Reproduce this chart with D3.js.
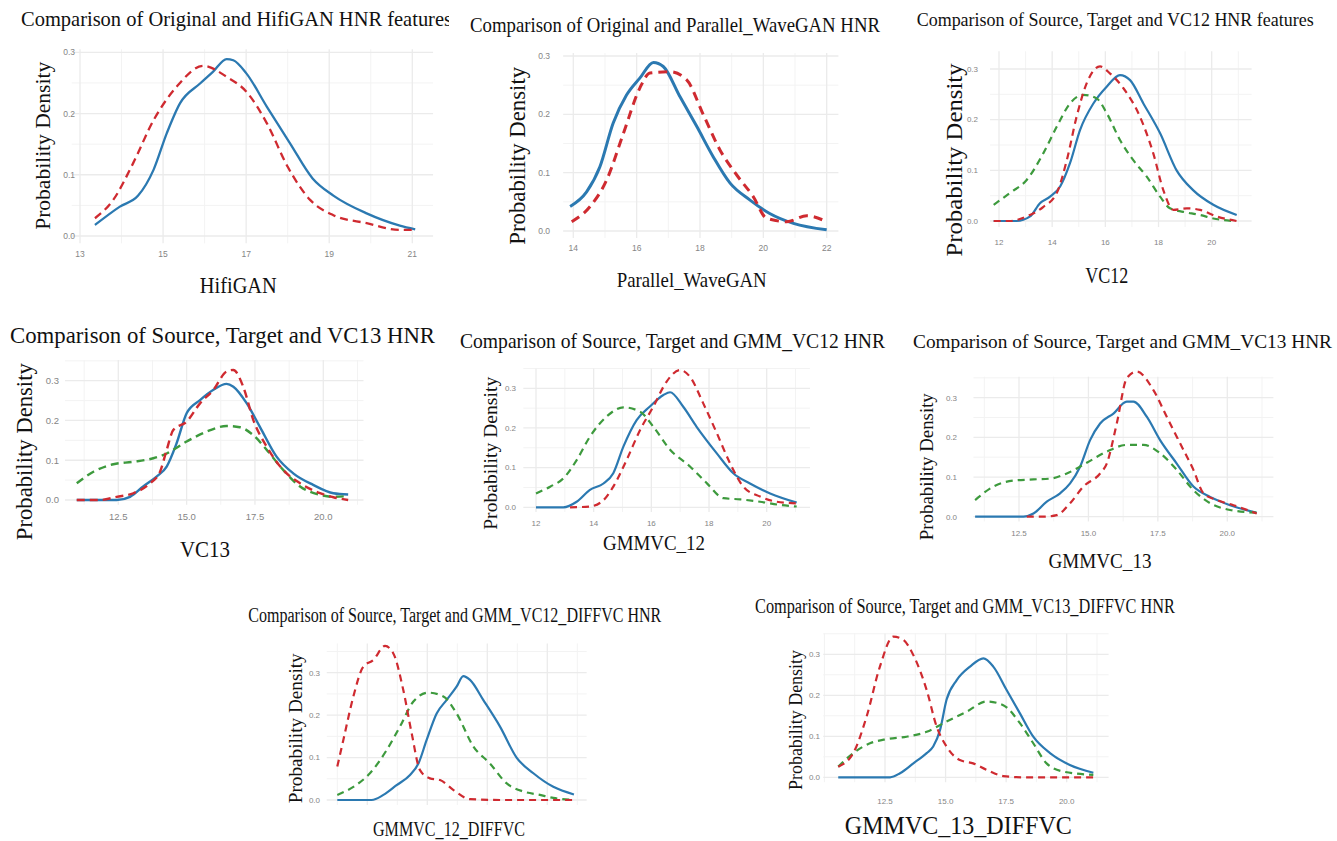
<!DOCTYPE html>
<html><head><meta charset="utf-8">
<script src="https://cdn.jsdelivr.net/npm/d3@7"></script>
<style>body{margin:0;background:#fff}svg{display:block}</style>
</head><body>
<svg id="c" width="1337" height="841"></svg>
<script>
// ---------------- DATA ----------------
const titles = [
  "Comparison of Original and HifiGAN HNR features",
  "Comparison of Original and Parallel_WaveGAN HNR",
  "Comparison of Source, Target and VC12 HNR features",
  "Comparison of Source, Target and VC13 HNR",
  "Comparison of Source, Target and GMM_VC12 HNR",
  "Comparison of Source, Target and GMM_VC13 HNR",
  "Comparison of Source, Target and GMM_VC12_DIFFVC HNR",
  "Comparison of Source, Target and GMM_VC13_DIFFVC HNR"
];
const xLabels = ["HifiGAN","Parallel_WaveGAN","VC12","VC13","GMMVC_12","GMMVC_13","GMMVC_12_DIFFVC","GMMVC_13_DIFFVC"];
const yLabel = "Probability Density";

const yTicks = [0, 0.1, 0.2, 0.3];
const yTickLabels = ["0.0","0.1","0.2","0.3"];
const yMinor = [0.05, 0.15, 0.25, 0.35];

const xTicksOdd = [13,15,17,19,21];
const xMinorOdd = [14,16,18,20];
const xTicksEven14 = [14,16,18,20,22];
const xMinorEven14 = [15,17,19,21];
const xTicksEven12 = [12,14,16,18,20];
const xMinorEven12 = [13,15,17,19,21];
const xTicksQuarter = [12.5,15,17.5,20];
const xTickLabelsQuarter = ["12.5","15.0","17.5","20.0"];
const xMinorQuarter = [10,11.25,13.75,16.25,18.75,21.25];

// Panel 1
const p1Target = [[13.36,0.018],[13.96,0.048],[14.4,0.066],[14.77,0.108],[15.09,0.168],[15.41,0.217],[15.89,0.249],[16.2,0.268],[16.53,0.289],[16.69,0.287],[17,0.266],[17.5,0.211],[18.06,0.151],[18.6,0.094],[19.1,0.066],[19.9,0.037],[20.7,0.017],[21.07,0.011]];
const p1HifiGAN = [[13.36,0.029],[13.8,0.059],[14.28,0.119],[14.77,0.189],[15.33,0.244],[15.97,0.278],[16.53,0.26],[17,0.236],[17.5,0.184],[18,0.113],[18.54,0.059],[19.1,0.034],[19.9,0.021],[20.7,0.01],[21.07,0.01]];
// Panel 2
const p2Target = [[13.9,0.042],[14.42,0.067],[14.84,0.11],[15.26,0.185],[15.68,0.233],[16.1,0.262],[16.53,0.289],[16.84,0.282],[17.37,0.23],[17.9,0.179],[18.42,0.127],[18.95,0.082],[19.58,0.053],[20.2,0.03],[20.95,0.013],[22,0.002]];
const p2ParallelWaveGAN = [[13.95,0.016],[14.53,0.042],[15.05,0.087],[15.58,0.167],[16.1,0.245],[16.42,0.271],[17.05,0.273],[17.58,0.259],[18.1,0.2],[18.63,0.139],[19.16,0.096],[19.68,0.059],[20.1,0.022],[20.74,0.016],[21.37,0.026],[22,0.016]];
// Panel 3
const p3Target = [[11.8,0],[12.66,0],[13.17,0.009],[13.54,0.035],[13.92,0.048],[14.3,0.068],[14.67,0.114],[15.05,0.18],[15.55,0.232],[16.05,0.265],[16.55,0.288],[16.93,0.278],[17.43,0.232],[18.06,0.173],[18.68,0.1],[19.3,0.061],[20.06,0.032],[20.94,0.012]];
const p3VC12 = [[11.8,0],[12.4,0],[13.04,0.009],[13.67,0.028],[14.17,0.055],[14.55,0.12],[14.92,0.206],[15.3,0.272],[15.8,0.305],[16.18,0.291],[16.68,0.262],[17.3,0.206],[17.8,0.134],[18.18,0.061],[18.56,0.022],[19.06,0.025],[19.56,0.022],[20.19,0.009],[20.94,0]];
const p3Source = [[11.8,0.032],[12.4,0.055],[13.04,0.081],[13.67,0.134],[14.17,0.186],[14.67,0.232],[15.17,0.249],[15.67,0.242],[16.05,0.213],[16.55,0.16],[17.05,0.12],[17.55,0.088],[18.06,0.048],[18.43,0.025],[18.93,0.018],[19.56,0.012],[20.06,0.005],[20.8,0]];
// Panel 4
const p4Target = [[10.98,0],[12.44,0],[12.93,0.008],[13.41,0.034],[13.9,0.059],[14.27,0.084],[14.63,0.142],[15,0.218],[15.49,0.251],[15.98,0.277],[16.46,0.292],[16.71,0.285],[17.2,0.243],[17.68,0.184],[18.29,0.109],[18.9,0.067],[19.63,0.038],[20.37,0.017],[20.91,0.014]];
const p4VC13 = [[10.98,0],[11.83,0],[12.44,0.008],[13.05,0.017],[13.66,0.042],[14.02,0.07],[14.27,0.126],[14.51,0.176],[15,0.197],[15.49,0.243],[15.98,0.277],[16.46,0.323],[16.71,0.327],[17.07,0.285],[17.44,0.201],[17.93,0.134],[18.54,0.075],[19.15,0.042],[19.88,0.017],[20.37,0.007],[20.91,0]];
const p4Source = [[10.98,0.042],[11.59,0.071],[12.32,0.09],[13.05,0.096],[13.78,0.105],[14.27,0.117],[15,0.147],[15.73,0.172],[16.46,0.186],[16.95,0.183],[17.44,0.163],[17.93,0.126],[18.54,0.075],[19.15,0.034],[19.88,0.013],[20.37,0.008],[20.91,0.01]];
// Panel 5
const p5Target = [[12,0],[12.95,0],[13.41,0.014],[13.87,0.044],[14.34,0.06],[14.68,0.086],[15.03,0.153],[15.49,0.22],[15.95,0.254],[16.42,0.283],[16.65,0.29],[17.1,0.254],[17.57,0.203],[18.27,0.136],[18.84,0.086],[19.42,0.06],[20.12,0.035],[21.04,0.012]];
const p5GMMVC12 = [[13.18,0],[13.87,0.002],[14.34,0.018],[14.68,0.052],[15.14,0.119],[15.61,0.195],[16.07,0.254],[16.53,0.317],[16.99,0.346],[17.34,0.329],[17.8,0.262],[18.27,0.187],[18.73,0.111],[19.19,0.052],[19.77,0.027],[20.35,0.014],[21.04,0.01]];
const p5Source = [[12,0.035],[12.49,0.052],[12.95,0.073],[13.41,0.119],[13.87,0.178],[14.45,0.229],[15.03,0.252],[15.61,0.241],[16.07,0.203],[16.65,0.145],[17.34,0.103],[17.92,0.061],[18.5,0.023],[19.08,0.02],[19.77,0.014],[20.46,0.006],[21.04,0.002]];
// Panel 6
const p6Target = [[10.92,0],[12.66,0],[13.02,0.008],[13.5,0.038],[13.98,0.059],[14.34,0.084],[14.7,0.126],[15.06,0.193],[15.42,0.235],[15.9,0.26],[16.38,0.29],[16.62,0.29],[17.1,0.252],[17.58,0.193],[18.18,0.134],[18.78,0.076],[19.38,0.05],[20.1,0.029],[21.06,0.01]];
const p6GMMVC13 = [[12.78,0],[13.38,0],[13.86,0.004],[14.34,0.034],[14.82,0.076],[15.42,0.109],[15.66,0.134],[16.02,0.235],[16.38,0.349],[16.74,0.366],[17.34,0.319],[17.82,0.252],[18.3,0.185],[18.78,0.118],[19.14,0.059],[19.62,0.042],[20.22,0.029],[21.06,0.008]];
const p6Source = [[10.92,0.042],[11.58,0.076],[12.3,0.091],[13.02,0.094],[13.62,0.096],[14.22,0.109],[14.94,0.136],[15.66,0.164],[16.38,0.181],[16.98,0.181],[17.58,0.16],[18.18,0.118],[18.78,0.067],[19.38,0.034],[20.1,0.017],[21.06,0.01]];
// Panel 7
const p7Target = [[11.25,0],[12.68,0],[13.17,0.012],[13.72,0.035],[14.28,0.059],[14.63,0.086],[14.97,0.141],[15.39,0.204],[15.81,0.236],[16.22,0.267],[16.5,0.292],[16.78,0.283],[17.33,0.236],[18.03,0.173],[18.72,0.1],[19.42,0.063],[20.25,0.031],[21.11,0.013]];
const p7GMMVC12Diff = [[11.25,0.079],[11.5,0.141],[11.92,0.244],[12.33,0.314],[12.75,0.33],[13.24,0.363],[13.58,0.346],[14,0.259],[14.35,0.157],[14.69,0.071],[15.11,0.051],[15.53,0.047],[16.08,0.024],[16.78,0.002],[18.03,0],[21.11,0]];
const p7Source = [[11.25,0.012],[11.92,0.031],[12.61,0.063],[13.31,0.118],[13.86,0.173],[14.42,0.232],[15.04,0.253],[15.67,0.244],[16.22,0.204],[16.92,0.126],[17.61,0.086],[18.31,0.039],[19,0.02],[19.69,0.012],[20.25,0.005],[21.11,0]];
// Panel 8
const p8Target = [[10.57,0],[12.71,0],[13.12,0.01],[13.67,0.034],[14.22,0.059],[14.49,0.075],[14.77,0.115],[15.04,0.189],[15.46,0.237],[16.01,0.27],[16.56,0.29],[16.97,0.27],[17.52,0.213],[18.07,0.156],[18.62,0.099],[19.31,0.059],[20.13,0.03],[21.1,0.011]];
const p8GMMVC13Diff = [[10.57,0.026],[11.19,0.059],[11.74,0.148],[12.29,0.27],[12.84,0.343],[13.26,0.335],[13.67,0.298],[14.22,0.213],[14.63,0.124],[15.04,0.075],[15.59,0.042],[16.14,0.034],[16.7,0.018],[17.38,0.003],[18.21,0],[21.1,0]];
const p8Source = [[10.57,0.026],[11.19,0.059],[11.88,0.083],[12.57,0.093],[13.39,0.099],[14.22,0.111],[15.04,0.136],[15.87,0.16],[16.7,0.185],[17.38,0.176],[18.07,0.132],[18.62,0.083],[19.17,0.034],[19.86,0.014],[21.1,0.006]];

// ---------------- STYLE / LAYOUT ----------------
const COL = {target:'#2b79b1', conv:'#cf2a30', src:'#3d9a3d'};
const SERIF = "'Liberation Serif','Times New Roman',serif";
const SANS = "'Liberation Sans Narrow','Liberation Sans',Arial,sans-serif";

const panels = [
  {xT:xTicksOdd, xTL:xTicksOdd.map(String), xM:xMinorOdd, series:[[p1Target,'target'],[p1HifiGAN,'conv']]},
  {xT:xTicksEven14, xTL:xTicksEven14.map(String), xM:xMinorEven14, series:[[p2Target,'target'],[p2ParallelWaveGAN,'conv']]},
  {xT:xTicksEven12, xTL:xTicksEven12.map(String), xM:xMinorEven12, series:[[p3Target,'target'],[p3Source,'src'],[p3VC12,'conv']]},
  {xT:xTicksQuarter, xTL:xTickLabelsQuarter, xM:xMinorQuarter, series:[[p4Target,'target'],[p4Source,'src'],[p4VC13,'conv']]},
  {xT:xTicksEven12, xTL:xTicksEven12.map(String), xM:xMinorEven12, series:[[p5Target,'target'],[p5Source,'src'],[p5GMMVC12,'conv']]},
  {xT:xTicksQuarter, xTL:xTickLabelsQuarter, xM:xMinorQuarter, series:[[p6Target,'target'],[p6Source,'src'],[p6GMMVC13,'conv']]},
  {xT:xTicksQuarter, xTL:null, xM:xMinorQuarter, series:[[p7Target,'target'],[p7Source,'src'],[p7GMMVC12Diff,'conv']]},
  {xT:xTicksQuarter, xTL:xTickLabelsQuarter, xM:xMinorQuarter, series:[[p8Target,'target'],[p8Source,'src'],[p8GMMVC13Diff,'conv']]}
];

const layout = [
  {xc:[13,80,21,412.3], yc:[236,52.3], xlim:[12.8,21.5], ylim:[-0.012,0.305], yTickX:75, xTickY:254, tfs:8.5, lw:2.3, dash:'8,5',
   title:{x:21,y:26,len:431,fs:22,clip:449}, xl:{x:238.3,y:292.7,len:77,fs:24}, yl:{x:50,y:145.8,len:168,fs:22}},
  {xc:[14,573.3,22,826.7], yc:[231,56], xlim:[13.68,22.37], ylim:[-0.012,0.305], yTickX:550, xTickY:248, tfs:8.5, lw:3, dash:'9,6',
   title:{x:470,y:32,len:410,fs:21}, xl:{x:691.7,y:286.7,len:150,fs:22}, yl:{x:525,y:155.8,len:178,fs:24}},
  {xc:[12,999,20,1211.7], yc:[221,69], xlim:[11.66,21.5], ylim:[-0.012,0.335], yTickX:978, xTickY:242, tfs:8, lw:2.2, dash:'7,5',
   title:{x:916.7,y:26,len:397,fs:18.2}, xl:{x:1106.7,y:283.3,len:43,fs:24}, yl:{x:961.7,y:160,len:193,fs:24}},
  {xc:[12.5,118.3,20,323.3], yc:[500,380.7], xlim:[10.55,21.47], ylim:[-0.012,0.352], yTickX:59, xTickY:517, tfs:9.5, lw:2.4, dash:'8,5',
   title:{x:10,y:343.3,len:425,fs:24}, xl:{x:205,y:556.7,len:50,fs:24}, yl:{x:31.7,y:451.7,len:177,fs:24}},
  {xc:[12,536,20,766.7], yc:[507.3,388.3], xlim:[11.56,21.5], ylim:[-0.012,0.35], yTickX:516, xTickY:523.3, tfs:8, lw:2.2, dash:'7,5',
   title:{x:460,y:348.3,len:425,fs:21}, xl:{x:654,y:550,len:102,fs:22}, yl:{x:496.7,y:453.3,len:153,fs:19}},
  {xc:[12.5,1019,20,1227.3], yc:[516.7,397.7], xlim:[10.86,21.66], ylim:[-0.012,0.353], yTickX:957, xTickY:533.3, tfs:8, lw:2.2, dash:'7,5',
   title:{x:913,y:348.3,len:419,fs:19.2}, xl:{x:1100,y:568.3,len:103,fs:22}, yl:{x:933.3,y:466.7,len:147,fs:19}},
  {xc:[11.25,337.3,20,547.3], yc:[800,672.7], xlim:[10.81,21.64], ylim:[-0.012,0.369], yTickX:320, xTickY:null, tfs:8, lw:2.2, dash:'7,5',
   title:{x:248.3,y:621.7,len:413,fs:20}, xl:{x:449,y:836,len:152,fs:20}, yl:{x:301.7,y:728.3,len:150,fs:19}},
  {xc:[12.5,885,20,1066.7], yc:[777.3,654.3], xlim:[9.95,21.73], ylim:[-0.012,0.351], yTickX:820, xTickY:800.7, tfs:8, lw:2.2, dash:'7,5',
   title:{x:755,y:613.3,len:420,fs:20}, xl:{x:958.3,y:834,len:227,fs:26}, yl:{x:801.7,y:720,len:140,fs:18}}
];

// ---------------- DRAW ----------------
const svg = d3.select('#c');
const defs = svg.append('defs');

panels.forEach((p, i) => {
  const L = layout[i];
  const x = d3.scaleLinear().domain([L.xc[0], L.xc[2]]).range([L.xc[1], L.xc[3]]);
  const y = d3.scaleLinear().domain([0, 0.3]).range([L.yc[0], L.yc[1]]);
  const g = svg.append('g').attr('class', 'panel-' + (i + 1));
  const [gx0, gx1] = L.xlim, [gy0, gy1] = L.ylim;

  // minor grid
  const grid = g.append('g');
  grid.selectAll('.vm').data(p.xM.filter(v => v >= gx0 && v <= gx1)).join('line')
    .attr('x1', d => x(d)).attr('x2', d => x(d)).attr('y1', y(gy0)).attr('y2', y(gy1))
    .attr('stroke', '#f3f3f3').attr('stroke-width', 1);
  grid.selectAll('.hm').data(yMinor.filter(v => v >= gy0 && v <= gy1)).join('line')
    .attr('y1', d => y(d)).attr('y2', d => y(d)).attr('x1', x(gx0)).attr('x2', x(gx1))
    .attr('stroke', '#f3f3f3').attr('stroke-width', 1);
  // major grid
  grid.selectAll('.vM').data(p.xT.filter(v => v >= gx0 && v <= gx1)).join('line')
    .attr('x1', d => x(d)).attr('x2', d => x(d)).attr('y1', y(gy0)).attr('y2', y(gy1))
    .attr('stroke', '#ebebeb').attr('stroke-width', 1.3);
  grid.selectAll('.hM').data(yTicks.filter(v => v >= gy0 && v <= gy1)).join('line')
    .attr('y1', d => y(d)).attr('y2', d => y(d)).attr('x1', x(gx0)).attr('x2', x(gx1))
    .attr('stroke', '#ebebeb').attr('stroke-width', 1.3);

  // tick labels
  g.append('g').selectAll('text').data(yTicks).join('text')
    .attr('x', L.yTickX).attr('y', d => y(d)).attr('dy', '0.35em')
    .attr('text-anchor', 'end').attr('font-family', SANS).attr('font-size', L.tfs)
    .attr('fill', '#858585').text((d, k) => yTickLabels[k]);
  if (p.xTL) {
    g.append('g').selectAll('text').data(p.xT).join('text')
      .attr('x', d => x(d)).attr('y', L.xTickY).attr('dy', '0.35em')
      .attr('text-anchor', 'middle').attr('font-family', SANS).attr('font-size', L.tfs)
      .attr('fill', '#858585').text((d, k) => p.xTL[k]);
  }

  // curves
  const line = d3.line().x(d => x(d[0])).y(d => y(d[1])).curve(d3.curveMonotoneX);
  p.series.forEach(([data, kind]) => {
    g.append('path').datum(data).attr('d', line)
      .attr('fill', 'none').attr('stroke', COL[kind])
      .attr('stroke-width', L.lw)
      .attr('stroke-linejoin', 'round')
      .attr('stroke-dasharray', kind === 'target' ? null : L.dash);
  });

  // title
  const t = g.append('text').attr('x', L.title.x).attr('y', L.title.y)
    .attr('font-family', SERIF).attr('font-size', L.title.fs).attr('fill', '#111')
    .attr('textLength', L.title.len).attr('lengthAdjust', 'spacingAndGlyphs')
    .text(titles[i]);
  if (L.title.clip) {
    const id = 'clip' + i;
    defs.append('clipPath').attr('id', id).append('rect')
      .attr('x', 0).attr('y', 0).attr('width', L.title.clip).attr('height', 60);
    t.attr('clip-path', `url(#${id})`);
  }
  // x label
  g.append('text').attr('x', L.xl.x).attr('y', L.xl.y).attr('text-anchor', 'middle')
    .attr('font-family', SERIF).attr('font-size', L.xl.fs).attr('fill', '#111')
    .attr('textLength', L.xl.len).attr('lengthAdjust', 'spacingAndGlyphs')
    .text(xLabels[i]);
  // y label
  g.append('text').attr('transform', `translate(${L.yl.x},${L.yl.y}) rotate(-90)`)
    .attr('text-anchor', 'middle')
    .attr('font-family', SERIF).attr('font-size', L.yl.fs).attr('fill', '#111')
    .attr('textLength', L.yl.len).attr('lengthAdjust', 'spacingAndGlyphs')
    .text(yLabel);
});
</script>
</body></html>
